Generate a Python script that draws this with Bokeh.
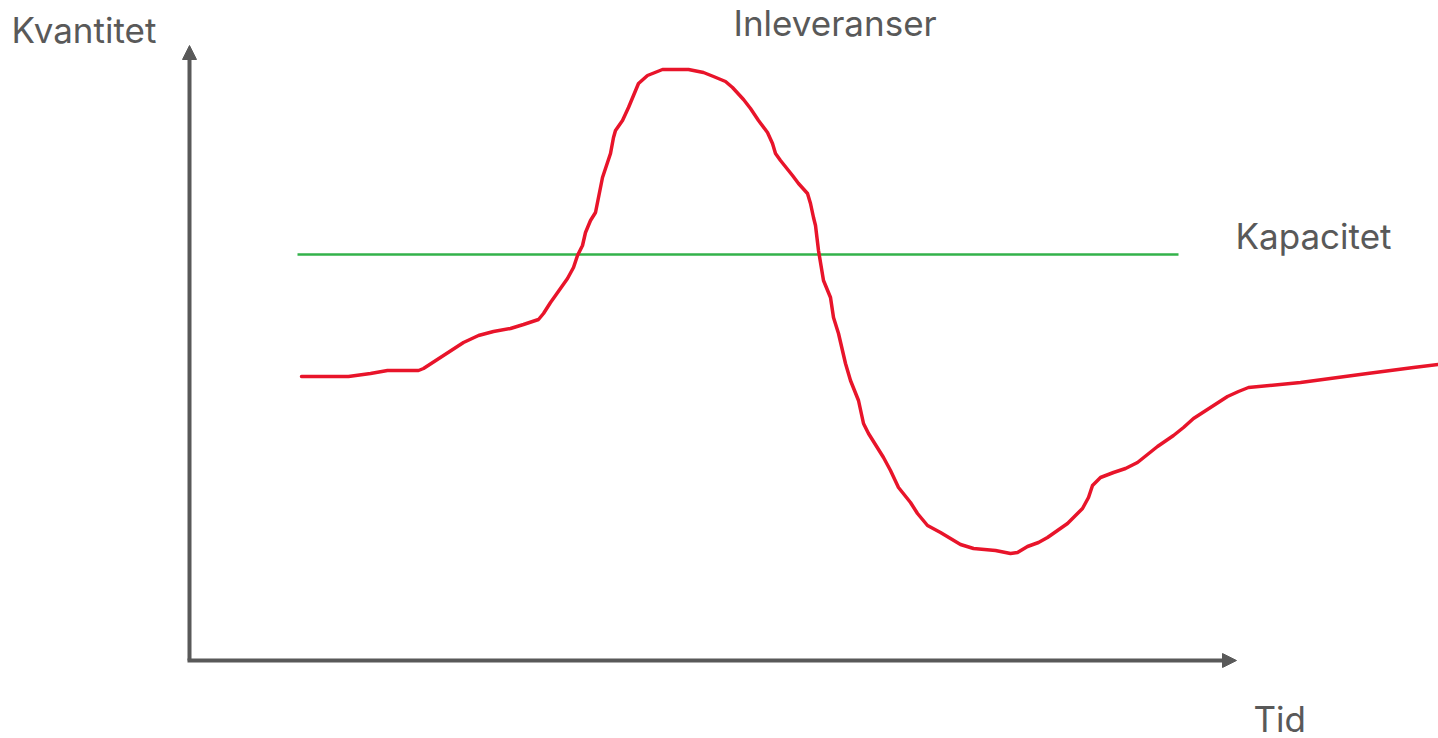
from bokeh.plotting import figure
from bokeh.models import Range1d, Arrow, NormalHead, Label
from bokeh.embed import file_html
from bokeh.resources import INLINE

# Schematic data (time units, quantity units)
tid = [112, 159, 181, 198, 229, 234, 254, 274, 289, 304, 321, 334, 349, 354, 361, 366,
       378, 384, 388, 393, 396, 401, 406, 409, 413, 416, 421, 424, 426, 433, 439, 444,
       449, 458, 473, 499, 514, 524, 536, 543, 554, 561, 569, 578, 583, 586, 591, 603,
       609, 618, 621, 624, 626, 629, 634, 641, 644, 649, 656, 661, 669, 674, 679, 694,
       701, 709, 721, 728, 738, 751, 771, 784, 806, 821, 828, 838, 849, 858, 878, 884,
       893, 899, 903, 911, 924, 936, 948, 968, 984, 994, 1004, 1021, 1038, 1049, 1059,
       1111, 1178, 1224, 1249]
inleveranser = [284, 284, 287, 290, 290, 292, 305, 318, 325, 329, 332, 336, 341, 347, 358, 365,
                382, 393, 405, 415, 428, 440, 448, 463, 483, 492, 507, 523, 530, 540, 553, 565,
                577, 585, 591, 591, 588, 584, 579, 573, 561, 552, 540, 528, 517, 507, 500, 485,
                477, 467, 457, 443, 435, 410, 380, 363, 343, 327, 297, 280, 260, 237, 227, 203,
                190, 173, 158, 147, 135, 128, 116, 112, 110, 107, 108, 114, 118, 123, 137, 143,
                152, 163, 175, 183, 188, 192, 198, 214, 225, 233, 242, 253, 264, 269, 273,
                278, 287, 293, 296]
kapacitet_tid = [108, 989]
kapacitet = [406, 406]
axis_x_end = 1047
axis_y_end = 615

AXIS_COLOR = "#595959"
TEXT_COLOR = "#595959"
FONT = "Inter"

p = figure(width=1438, height=738, output_backend="svg", toolbar_location=None,
           x_range=Range1d(-189, 1249), y_range=Range1d(-78, 660),
           min_border=0)
p.axis.visible = False
p.grid.visible = False
p.outline_line_color = None
p.background_fill_color = "white"
p.border_fill_color = "white"

# Axes with arrowheads
p.add_layout(Arrow(x_start=0, y_start=0, x_end=0, y_end=axis_y_end,
                   line_color=AXIS_COLOR, line_width=4,
                   end=NormalHead(size=14, fill_color=AXIS_COLOR, line_color=AXIS_COLOR, line_width=1)))
p.add_layout(Arrow(x_start=-2, y_start=0, x_end=axis_x_end, y_end=0,
                   line_color=AXIS_COLOR, line_width=4,
                   end=NormalHead(size=14, fill_color=AXIS_COLOR, line_color=AXIS_COLOR, line_width=1)))

# Capacity line
p.line(kapacitet_tid, kapacitet, line_color="#33b24a", line_width=2.5)

# Deliveries curve
p.line(tid, inleveranser, line_color="#e8142a", line_width=3.5, line_join="round", line_cap="round")

def lab(x, y, text):
    p.add_layout(Label(x=x, y=y, text=text, text_font=FONT, text_font_size="35px",
                       text_color=TEXT_COLOR, text_baseline="alphabetic", text_align="left"))

lab(-178, 631, "Kvantitet")
lab(544, 638, "Inleveranser")
lab(1046, 425, "Kapacitet")
lab(1064, -58, "Tid")

open("out.html", "w").write(file_html(p, INLINE))
